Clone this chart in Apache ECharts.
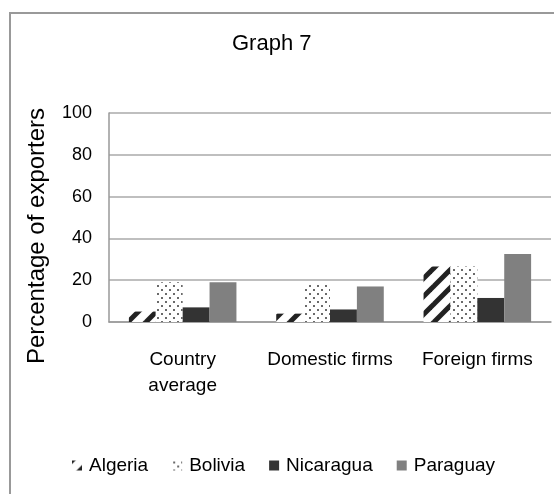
<!DOCTYPE html>
<html>
<head>
<meta charset="utf-8">
<script src="https://cdn.jsdelivr.net/npm/echarts@6/dist/echarts.min.js"></script>
<style>
  html, body { margin: 0; padding: 0; background: #fff; }
  #chart { width: 554px; height: 494px; }
</style>
</head>
<body>
<div id="chart"></div>
<script>
// Share of firms that export, by firm type
const categories = ['Country\naverage', 'Domestic firms', 'Foreign firms'];
const algeria = [5, 4, 26.5];
const bolivia = [19, 18, 26.5];
const nicaragua = [7, 6, 11.5];
const paraguay = [19, 17, 32.5];
const yTicks = [0, 20, 40, 60, 80, 100];

const FONT = '"Liberation Sans", Arial, sans-serif';

// Diagonal hatch fill
function stripePattern() {
  const s = 18;
  const c = document.createElement('canvas');
  c.width = s; c.height = s;
  const g = c.getContext('2d');
  g.fillStyle = '#fff';
  g.fillRect(0, 0, s, s);
  g.strokeStyle = '#222';
  g.lineWidth = 5;
  g.lineCap = 'square';
  for (const o of [-s, 0, s]) {
    g.beginPath();
    g.moveTo(o, s);
    g.lineTo(o + s, 0);
    g.stroke();
  }
  return { image: c, repeat: 'repeat' };
}

// Dotted fill
function dotPattern() {
  const s = 8;
  const c = document.createElement('canvas');
  c.width = s; c.height = s;
  const g = c.getContext('2d');
  g.fillStyle = '#fff';
  g.fillRect(0, 0, s, s);
  g.fillStyle = '#6a6a6a';
  g.fillRect(1, 1, 2, 2);
  g.fillRect(5, 5, 2, 2);
  return { image: c, repeat: 'repeat' };
}

const chart = echarts.init(document.getElementById('chart'), null, { renderer: 'canvas' });

const series = [
  { name: 'Algeria', data: algeria, color: stripePattern() },
  { name: 'Bolivia', data: bolivia, color: dotPattern() },
  { name: 'Nicaragua', data: nicaragua, color: '#333333' },
  { name: 'Paraguay', data: paraguay, color: '#808080' }
].map(s => ({
  name: s.name,
  type: 'bar',
  data: s.data,
  barGap: '0%',
  barCategoryGap: '27%',
  itemStyle: { color: s.color },
  emphasis: { disabled: true }
}));

chart.setOption({
  animation: false,
  backgroundColor: '#fff',
  title: {
    text: 'Graph 7',
    left: 227,
    top: 28,
    textStyle: { fontFamily: FONT, fontSize: 22, fontWeight: 'normal', color: '#000' }
  },
  legend: {
    left: 67,
    top: 451,
    itemWidth: 10,
    itemHeight: 10,
    itemGap: 24,
    icon: 'rect',
    textStyle: { fontFamily: FONT, fontSize: 19, color: '#000', padding: [0, 0, 0, 2] },
    data: series.map(s => s.name)
  },
  grid: { left: 109, right: 3, top: 113, bottom: 172, containLabel: false },
  xAxis: {
    type: 'category',
    data: categories,
    axisLine: { lineStyle: { color: '#999', width: 1.5 } },
    axisTick: { show: false },
    axisLabel: {
      fontFamily: FONT, fontSize: 19, color: '#000',
      margin: 25, lineHeight: 26, interval: 0
    }
  },
  yAxis: {
    type: 'value',
    min: yTicks[0],
    max: yTicks[yTicks.length - 1],
    interval: yTicks[1] - yTicks[0],
    axisLine: { show: true, lineStyle: { color: '#999', width: 1.5 } },
    axisTick: { show: false },
    splitLine: { lineStyle: { color: '#aaa', width: 1.5 } },
    axisLabel: { fontFamily: FONT, fontSize: 18, color: '#000', margin: 17 }
  },
  graphic: [
    {
      type: 'polyline',
      shape: { points: [[10, 500], [10, 13], [560, 13]] },
      style: { stroke: '#999', lineWidth: 2, fill: null },
      silent: true
    },
    {
      type: 'text',
      x: 37,
      y: 236,
      rotation: Math.PI / 2,
      style: {
        text: 'Percentage of exporters',
        fontFamily: FONT,
        fontSize: 24,
        fill: '#000',
        align: 'center',
        verticalAlign: 'middle'
      },
      silent: true
    }
  ],
  series: series
});
</script>
</body>
</html>
